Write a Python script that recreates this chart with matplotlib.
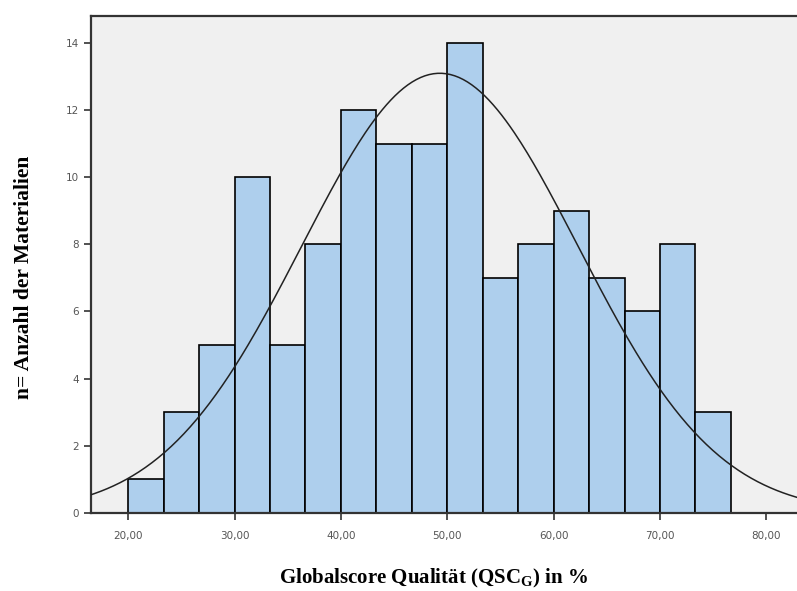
import numpy as np
import matplotlib
matplotlib.use("Agg")
from matplotlib import pyplot as plt

# histogram bins (width 10/3) and counts
bin_start = 20.0
bin_width = 10.0 / 3.0
counts = [1, 3, 5, 10, 5, 8, 12, 11, 11, 14, 7, 8, 9, 7, 6, 8, 3]

# fitted normal curve parameters
mean = 49.3
std = 13.0

x_ticks = [20, 30, 40, 50, 60, 70, 80]
y_ticks = [0, 2, 4, 6, 8, 10, 12, 14]

edges = bin_start + bin_width * np.arange(len(counts) + 1)
n_total = sum(counts)

fig = plt.figure(figsize=(7.97, 5.91), dpi=100)
ax = fig.add_axes([0.1142, 0.132, 0.886, 0.841])
ax.set_facecolor("#f0f0f0")

ax.bar(edges[:-1], counts, width=bin_width, align="edge",
       color="#aecfed", edgecolor="black", linewidth=1.2, zorder=2)

xs = np.linspace(10, 90, 400)
ys = n_total * bin_width / (std * np.sqrt(2 * np.pi)) * np.exp(-0.5 * ((xs - mean) / std) ** 2)
ax.plot(xs, ys, color="#222222", linewidth=1.1, zorder=3)

ax.set_xlim(16.5, 82.9)
ax.set_ylim(0, 14.8)
ax.set_xticks(x_ticks)
ax.set_xticklabels(["%d,00" % t for t in x_ticks])
ax.set_yticks(y_ticks)
ax.tick_params(axis="both", labelsize=7.5, colors="#333333", labelcolor="#555555",
               length=5, width=1.2, direction="out")
ax.tick_params(axis="x", pad=8)

for side in ["left", "bottom", "top"]:
    ax.spines[side].set_linewidth(1.6)
    ax.spines[side].set_color("#333333")
ax.spines["right"].set_visible(False)

fig.text(0.544, 0.022, "Globalscore Qualität (QSC$_\\mathregular{G}$) in %",
         ha="center", va="center", fontsize=15, fontweight="bold",
         family="Liberation Serif")
fig.text(0.03, 0.53, "n= Anzahl der Materialien", rotation=90,
         ha="center", va="center", fontsize=15.5, fontweight="bold",
         family="Liberation Serif")

fig.savefig("out.png", dpi=100)
